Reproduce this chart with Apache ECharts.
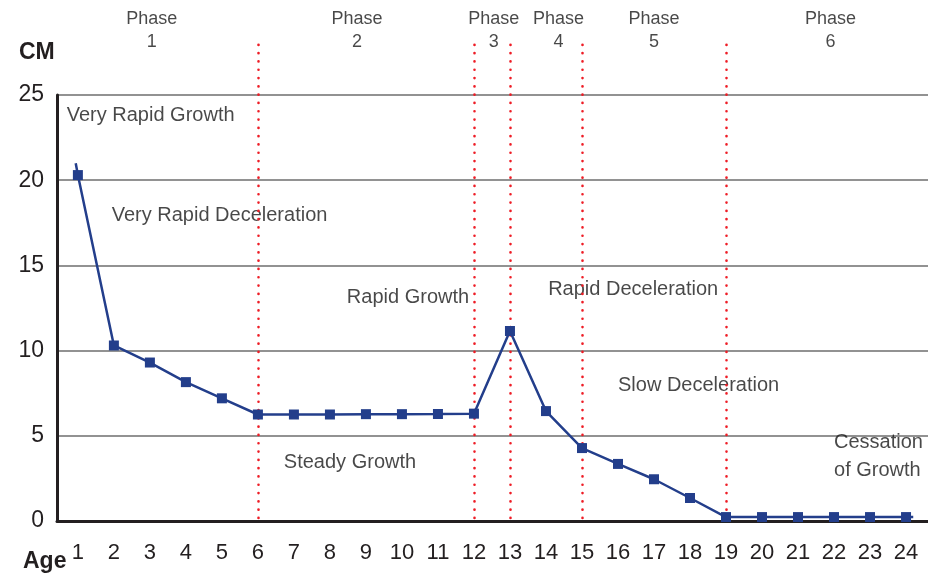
<!DOCTYPE html>
<html>
<head>
<meta charset="utf-8">
<script src="https://cdn.jsdelivr.net/npm/echarts@6/dist/echarts.min.js"></script>
<style>
  html, body { margin: 0; padding: 0; background: #fff; }
  #chart { width: 928px; height: 575px; }
</style>
</head>
<body>
<div id="chart"></div>
<script>
// 讀圖所得的資料
const ages = [1, 2, 3, 4, 5, 6, 7, 8, 9, 10, 11, 12, 13, 14, 15, 16, 17, 18, 19, 20, 21, 22, 23, 24];
const growthCm = [20.3, 10.3, 9.3, 8.15, 7.2, 6.25, 6.25, 6.25, 6.27, 6.27, 6.28, 6.3, 11.15, 6.45, 4.28, 3.35, 2.45, 1.35, 0.23, 0.23, 0.23, 0.23, 0.23, 0.23];
const lineStart = [0.94, 21.0];   // 線段在第一點之前的延伸
const lineEnd = [24.2, 0.23];     // 線段在最後一點之後的延伸
const yTicks = [0, 5, 10, 15, 20, 25];
const phaseBounds = [6, 12, 13, 15, 19];
const phaseNums = ['1', '2', '3', '4', '5', '6'];
const phaseCenters = [3.05, 8.75, 12.55, 14.35, 17.0, 21.9];
const noteTexts = ['Very Rapid Growth', 'Very Rapid Deceleration', 'Rapid Growth', 'Rapid Deceleration', 'Slow Deceleration', 'Steady Growth', 'Cessation\nof Growth'];
const noteAt = [[0.69, 23.8], [1.94, 17.9], [8.47, 13.1], [14.06, 13.6], [16.0, 7.98], [6.72, 3.46], [22.0, 3.76]];

const FONT = '"Liberation Sans", Arial, sans-serif';
const INK = '#231f20';
const X_MIN = 0.42, X_MAX = 24.61;

const chart = echarts.init(document.getElementById('chart'), null, { renderer: 'canvas' });

const lineData = [
  { value: lineStart, symbol: 'none' },
  ...ages.map((a, i) => [a, growthCm[i]]),
  { value: lineEnd, symbol: 'none' }
];

chart.setOption({
  animation: false,
  textStyle: { fontFamily: FONT },
  title: [
    { text: 'CM', left: 14, top: 36, textStyle: { fontFamily: FONT, fontSize: 23, fontWeight: 'bold', color: INK } },
    { text: 'Age', left: 18, top: 545, textStyle: { fontFamily: FONT, fontSize: 23, fontWeight: 'bold', color: INK } }
  ],
  grid: [
    { left: 57, right: 0, top: 95, bottom: 54 },
    { left: 57, right: 0, top: 42, bottom: 57 }
  ],
  xAxis: [
    {
      type: 'value', gridIndex: 0, min: X_MIN, max: X_MAX,
      splitLine: { show: false },
      axisTick: { show: false },
      axisLine: { lineStyle: { color: INK, width: 3 } },
      axisLabel: { customValues: ages, color: INK, fontSize: 22, margin: 21, fontFamily: FONT }
    },
    { type: 'value', gridIndex: 1, min: X_MIN, max: X_MAX, show: false }
  ],
  yAxis: [
    {
      type: 'value', gridIndex: 0, min: 0, max: 25, interval: 5,
      axisLine: { show: true, lineStyle: { color: INK, width: 3 } },
      axisTick: { show: false },
      splitLine: { lineStyle: { color: '#6e6e6e', width: 1.5 } },
      axisLabel: { customValues: yTicks, color: INK, fontSize: 23, margin: 13, fontFamily: FONT }
    },
    { type: 'value', gridIndex: 1, min: 0, max: 1, show: false }
  ],
  series: [
    {
      type: 'line', xAxisIndex: 0, yAxisIndex: 0,
      data: lineData,
      symbol: 'rect', symbolSize: 10,
      lineStyle: { color: '#233e8b', width: 2.5 },
      itemStyle: { color: '#233e8b' },
      z: 5
    },
    {
      type: 'scatter', xAxisIndex: 0, yAxisIndex: 0,
      symbolSize: 0, silent: true, clip: false,
      data: noteAt.map((p, i) => ({ value: p, name: noteTexts[i] })),
      label: {
        show: true, position: 'right', distance: 0,
        formatter: p => p.name,
        fontFamily: FONT, fontSize: 20, lineHeight: 28, color: '#1a1a1a', align: 'left'
      }
    },
    {
      type: 'scatter', xAxisIndex: 1, yAxisIndex: 1,
      symbolSize: 0, silent: true, clip: false,
      data: phaseCenters.map((x, i) => ({ value: [x, 1], name: phaseNums[i] })),
      label: {
        show: true, position: 'inside', offset: [0, -11],
        formatter: p => 'Phase\n' + p.name,
        fontFamily: FONT, fontSize: 18, lineHeight: 23, color: '#1a1a1a'
      },
      markLine: {
        silent: true, symbol: 'none',
        label: { show: false },
        lineStyle: { color: '#ee1c25', width: 2.6, type: [0.1, 8.2], cap: 'round' },
        data: phaseBounds.map(x => ({ xAxis: x }))
      }
    }
  ]
});
</script>
</body>
</html>
